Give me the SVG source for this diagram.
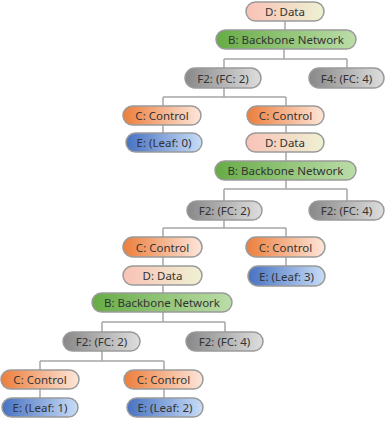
<svg xmlns="http://www.w3.org/2000/svg" width="385" height="423" viewBox="0 0 385 423">
<defs>
<linearGradient id="gD" x1="0" x2="1" y1="0" y2="0"><stop offset="0" stop-color="#f9c2b6"/><stop offset="1" stop-color="#eef1d3"/></linearGradient>
<linearGradient id="gB" x1="0" x2="1" y1="0" y2="0"><stop offset="0" stop-color="#66ac45"/><stop offset="1" stop-color="#bcdda9"/></linearGradient>
<linearGradient id="gF" x1="0" x2="1" y1="0" y2="0"><stop offset="0" stop-color="#888888"/><stop offset="1" stop-color="#dedede"/></linearGradient>
<linearGradient id="gC" x1="0" x2="1" y1="0" y2="0"><stop offset="0" stop-color="#ec7e3c"/><stop offset="1" stop-color="#fde6da"/></linearGradient>
<linearGradient id="gE" x1="0" x2="1" y1="0" y2="0"><stop offset="0" stop-color="#4772c2"/><stop offset="1" stop-color="#c8dcf6"/></linearGradient>
</defs>
<style>
rect{stroke:#9a9a9a;stroke-width:1.5}
.d{fill:url(#gD)}.b{fill:url(#gB)}.f{fill:url(#gF)}.c{fill:url(#gC)}.e{fill:url(#gE)}
text{font-family:"Noto Sans","Open Sans",sans-serif;font-size:11.5px;fill:#333;text-anchor:middle;dominant-baseline:central}
#edges path{fill:none;stroke:#a6a6a6;stroke-width:1.5}
</style>
<g id="edges">
<path d="M285 21V30"/>
<path d="M284 49V59M224 59H347M224 59V68M347 59V68"/>
<path d="M224 88V97M163 97H286M163 97V106M286 97V106"/>
<path d="M163 125V133"/>
<path d="M286 125V133"/>
<path d="M286 152V161"/>
<path d="M286 180V189M224 189H347M224 189V201M347 189V201"/>
<path d="M224 219V228M163 228H286M163 228V237M286 228V237"/>
<path d="M163 257V266"/>
<path d="M286 257V266"/>
<path d="M163 285V293"/>
<path d="M163 312V322M102 322H225M102 322V332M225 322V332"/>
<path d="M102 351V361M40 361H164M40 361V370M164 361V370"/>
<path d="M40 389V398"/>
<path d="M164 389V398"/>
</g>
<g id="n1"><rect class="d" x="246" y="2" width="78" height="19" rx="9.5"/><text x="285" y="11.5">D: Data</text></g>
<g id="n2"><rect class="b" x="216" y="30" width="140" height="19" rx="9.5"/><text x="286" y="39.5">B: Backbone Network</text></g>
<g id="n3"><rect class="f" x="185" y="68" width="76" height="20" rx="10"/><text x="223" y="78">F2: (FC: 2)</text></g>
<g id="n4"><rect class="f" x="309" y="68" width="75" height="20" rx="10"/><text x="346.5" y="78">F4: (FC: 4)</text></g>
<g id="n5"><rect class="c" x="123" y="106" width="78" height="19" rx="9.5"/><text x="162" y="115.5">C: Control</text></g>
<g id="n6"><rect class="c" x="247" y="106" width="77" height="19" rx="9.5"/><text x="285.5" y="115.5">C: Control</text></g>
<g id="n7"><rect class="e" x="126" y="133" width="76" height="19" rx="9.5"/><text x="164" y="142.5">E: (Leaf: 0)</text></g>
<g id="n8"><rect class="d" x="246" y="133" width="78" height="19" rx="9.5"/><text x="285" y="142.5">D: Data</text></g>
<g id="n9"><rect class="b" x="215" y="161" width="141" height="19" rx="9.5"/><text x="285.5" y="170.5">B: Backbone Network</text></g>
<g id="n10"><rect class="f" x="187" y="201" width="75" height="19" rx="9.5"/><text x="224.5" y="210.5">F2: (FC: 2)</text></g>
<g id="n11"><rect class="f" x="309" y="201" width="75" height="19" rx="9.5"/><text x="346.5" y="210.5">F2: (FC: 4)</text></g>
<g id="n12"><rect class="c" x="123" y="237" width="79" height="20" rx="10"/><text x="162.5" y="247">C: Control</text></g>
<g id="n13"><rect class="c" x="246" y="237" width="79" height="20" rx="10"/><text x="285.5" y="247">C: Control</text></g>
<g id="n14"><rect class="d" x="123" y="266" width="79" height="19" rx="9.5"/><text x="162.5" y="275.5">D: Data</text></g>
<g id="n15"><rect class="e" x="248" y="266" width="77" height="20" rx="10"/><text x="286.5" y="276">E: (Leaf: 3)</text></g>
<g id="n16"><rect class="b" x="92" y="293" width="140" height="19" rx="9.5"/><text x="162" y="302.5">B: Backbone Network</text></g>
<g id="n17"><rect class="f" x="63" y="332" width="77" height="19" rx="9.5"/><text x="101.5" y="341.5">F2: (FC: 2)</text></g>
<g id="n18"><rect class="f" x="186" y="332" width="77" height="19" rx="9.5"/><text x="224.5" y="341.5">F2: (FC: 4)</text></g>
<g id="n19"><rect class="c" x="1" y="370" width="78" height="19" rx="9.5"/><text x="40" y="379.5">C: Control</text></g>
<g id="n20"><rect class="c" x="124" y="370" width="79" height="19" rx="9.5"/><text x="163.5" y="379.5">C: Control</text></g>
<g id="n21"><rect class="e" x="2" y="398" width="76" height="19" rx="9.5"/><text x="40" y="407.5">E: (Leaf: 1)</text></g>
<g id="n22"><rect class="e" x="127" y="398" width="76" height="19" rx="9.5"/><text x="165" y="407.5">E: (Leaf: 2)</text></g>
</svg>
